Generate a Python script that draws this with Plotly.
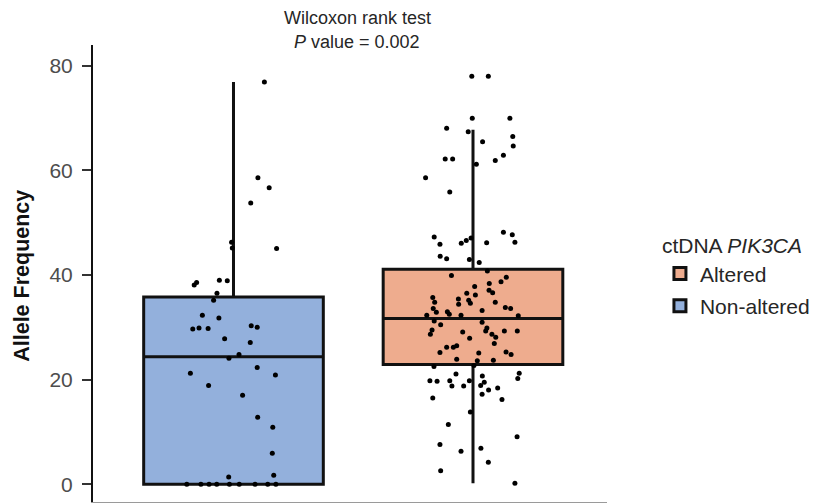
import plotly.graph_objects as go

# Group positions on the x axis
groups = ["Non-altered", "Altered"]
group_pos = [0, 1]
fill_colors = {"Non-altered": "#93b0dc", "Altered": "#eeac8e"}

# Box summary statistics (allele frequency, %)
box_q1 = {"Non-altered": 0.0, "Altered": 22.9}
box_median = {"Non-altered": 24.4, "Altered": 31.7}
box_q3 = {"Non-altered": 35.8, "Altered": 41.1}
box_low = {"Non-altered": 0.0, "Altered": 0.2}
box_high = {"Non-altered": 76.9, "Altered": 67.8}

# Individual samples: allele frequency and horizontal jitter offset
nonalt_af = [76.9, 58.6, 56.7, 53.8, 46.3, 45.2, 45.1,
             38.1, 38.6, 39.0, 38.9, 36.5, 35.2, 32.3, 31.8, 29.7, 29.9, 29.8,
             30.3, 30.0, 27.8, 27.1, 24.8, 24.1, 21.2, 22.3, 20.9, 18.9, 17.0,
             12.8, 10.9, 5.9, 1.7, 1.4,
             0, 0, 0, 0, 0, 0, 0, 0, 0]
nonalt_jit = [0.129, 0.102, 0.149, 0.072, -0.008, -0.005, 0.18,
              -0.164, -0.154, -0.059, -0.026, -0.069, -0.083, -0.13, -0.061, -0.17, -0.144, -0.106,
              0.074, 0.099, -0.037, 0.07, 0.023, -0.019, -0.18, 0.099, 0.175, -0.104, 0.038,
              0.101, 0.164, 0.162, 0.168, -0.02,
              -0.195, -0.136, -0.102, -0.07, -0.017, 0.024, 0.09, 0.143, 0.177]

alt_af = [78.0, 78.0, 70.0, 70.0, 68.1, 67.4, 65.5, 66.5, 64.7, 62.2, 62.2, 62.9, 61.9,
          61.2, 58.6, 55.9, 47.3, 45.9, 46.1, 46.6, 47.1, 46.2, 48.2, 47.7, 46.3, 43.6,
          43.1, 43.0, 42.4, 40.8, 39.9, 39.6, 38.7, 37.8, 38.4, 37.1, 36.6, 36.5, 36.2,
          35.7, 35.4, 35.2, 34.8, 34.4, 34.6, 34.8, 33.6, 33.8, 33.6, 32.9, 33.0, 33.2,
          32.5, 32.3, 32.3, 32.2, 31.2, 30.5, 31.0, 29.5, 29.9, 29.1, 29.3, 29.3, 29.3,
          28.7, 28.7, 28.1, 27.9, 26.9, 26.2, 26.2, 26.5, 25.2, 25.3, 24.8, 25.1, 23.9,
          23.6, 23.7, 22.7, 22.5, 21.1, 19.8, 19.7, 19.8, 18.8, 18.8, 19.8, 20.7, 19.5,
          18.9, 18.0, 18.4, 17.2, 21.2, 20.2, 16.5, 16.2, 13.8, 11.4, 9.1, 7.6, 6.3,
          6.9, 4.2, 2.6, 0.2]
alt_jit = [-0.005, 0.064, -0.003, 0.154, -0.11, -0.02, 0.04, 0.166, 0.168, -0.116, -0.085, 0.127, 0.093,
           0.014, -0.198, -0.097, -0.162, -0.138, -0.049, -0.028, -0.008, 0.057, 0.127, 0.164, 0.175, -0.137,
           -0.11, -0.015, 0.026, 0.06, -0.09, 0.139, 0.117, 0.007, 0.068, 0.067, 0.082, -0.026, 0.01,
           -0.168, -0.061, -0.018, -0.16, -0.06, -0.011, 0.093, -0.166, 0.135, 0.157, -0.153, -0.107, 0.038,
           -0.099, -0.193, -0.05, 0.189, -0.162, -0.135, 0.038, -0.171, 0.058, -0.043, 0.053, 0.131, 0.185,
           -0.178, 0.079, 0.095, -0.014, 0.089, -0.11, -0.082, -0.068, -0.138, 0.138, 0.159, 0.024, -0.068,
           0.018, 0.085, 0.004, -0.163, -0.071, -0.18, -0.15, -0.097, -0.088, -0.039, -0.015, 0.039, 0.047,
           0.032, 0.065, 0.103, 0.038, 0.193, 0.187, -0.168, 0.121, -0.011, -0.103, 0.184, -0.138, -0.05,
           0.033, 0.064, -0.135, 0.175]

samples = {"Non-altered": (nonalt_af, nonalt_jit), "Altered": (alt_af, alt_jit)}

y_ticks = [0, 20, 40, 60, 80]
font_family = "Liberation Sans, Arial, sans-serif"
text_color = "#262626"

fig = go.Figure()

# Boxes from precomputed statistics
for name, pos in zip(groups, group_pos):
    fig.add_trace(go.Box(
        name=name,
        x=[pos],
        q1=[box_q1[name]],
        median=[box_median[name]],
        q3=[box_q3[name]],
        lowerfence=[box_low[name]],
        upperfence=[box_high[name]],
        width=0.75,
        whiskerwidth=0,
        fillcolor=fill_colors[name],
        line=dict(color="#111111", width=3),
        boxpoints=False,
        hoverinfo="skip",
        legendrank=1 if name == "Altered" else 2,
        legendgroup=name,
    ))

# Jittered sample points
for name, pos in zip(groups, group_pos):
    af, jit = samples[name]
    fig.add_trace(go.Scatter(
        x=[pos + j for j in jit],
        y=af,
        mode="markers",
        marker=dict(color="black", size=5),
        showlegend=False,
        hoverinfo="skip",
    ))

fig.update_layout(
    width=813,
    height=503,
    margin=dict(l=93, r=206, t=45, b=1, autoexpand=False),
    paper_bgcolor="white",
    plot_bgcolor="white",
    boxmode="overlay",
    font=dict(family=font_family, color=text_color),
    xaxis=dict(
        range=[-0.5866, 1.5595],
        showticklabels=False,
        ticks="",
        showgrid=False,
        zeroline=False,
        showline=True,
        linecolor="#9a9a9a",
        linewidth=2,
    ),
    yaxis=dict(
        range=[-3.4, 84.0],
        tickvals=y_ticks,
        ticktext=[str(v) for v in y_ticks],
        ticks="outside",
        ticklen=9,
        tickwidth=2,
        tickcolor="#333333",
        tickfont=dict(size=21, color="#4d4d4d", family=font_family),
        ticklabelstandoff=5,
        showgrid=False,
        zeroline=False,
        showline=True,
        linecolor="#111111",
        linewidth=2,
    ),
    legend=dict(
        title=dict(text="ctDNA <i>PIK3CA</i>", font=dict(size=21, color=text_color)),
        font=dict(size=21, color=text_color),
        x=1.103,
        xanchor="left",
        y=0.604,
        yanchor="top",
        tracegroupgap=2,
        bgcolor="rgba(0,0,0,0)",
    ),
    annotations=[
        dict(text="Wilcoxon rank test", xref="paper", yref="paper",
             x=0.514, y=1.0, yshift=27, xanchor="center", yanchor="middle",
             showarrow=False, font=dict(size=18, color=text_color)),
        dict(text="<i>P</i> value = 0.002", xref="paper", yref="paper",
             x=0.514, y=1.0, yshift=3, xanchor="center", yanchor="middle",
             showarrow=False, font=dict(size=18, color=text_color)),
        dict(text="<b>Allele Frequency</b>", xref="paper", yref="paper",
             x=0, xshift=-71, y=0.495, xanchor="center", yanchor="middle",
             textangle=-90, showarrow=False, font=dict(size=21.5, color="#111111")),
    ],
)

fig.write_html("out.html")
